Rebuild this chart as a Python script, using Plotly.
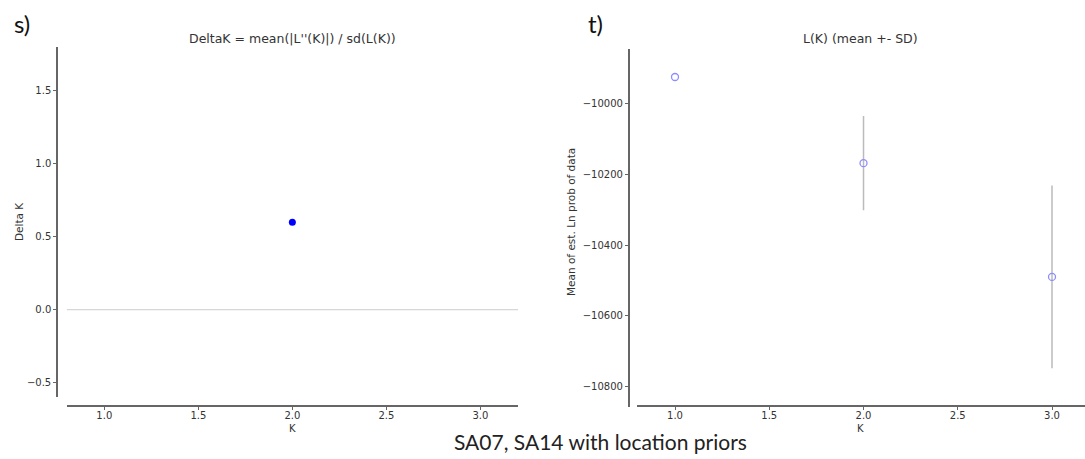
import plotly.graph_objects as go

W, H = 1085, 459

# ---- data ----
k_delta = [2.0]
delta_k = [0.6]

k_vals = [1, 2, 3]
lnp_mean = [-9926, -10169, -10490]
lnp_sd = [0, 133, 258]

left_xticks = [1.0, 1.5, 2.0, 2.5, 3.0]
left_yticks = [-0.5, 0.0, 0.5, 1.0, 1.5]
right_yticks = [-10800, -10600, -10400, -10200, -10000]
right_yticktext = ["\u221210800", "\u221210600", "\u221210400", "\u221210200", "\u221210000"]

def px(x):
    return x / W

def py(y):
    return 1 - y / H

FONT = "DejaVu Sans"
AXC = "#666666"
TXT = "#333333"

fig = go.Figure()

# zero line in left panel
fig.add_trace(go.Scatter(x=[0.8, 3.2], y=[0, 0], mode="lines",
                         line=dict(color="#cccccc", width=1),
                         xaxis="x", yaxis="y", showlegend=False, hoverinfo="skip"))
fig.add_trace(go.Scatter(x=k_delta, y=delta_k, mode="markers",
                         marker=dict(color="#0000ff", size=7, line=dict(width=0)),
                         xaxis="x", yaxis="y", showlegend=False))

fig.add_trace(go.Scatter(x=k_vals, y=lnp_mean, mode="markers",
                         marker=dict(color="rgba(0,0,0,0)", size=7,
                                     line=dict(color="#8c8cff", width=1.3)),
                         error_y=dict(type="data", array=lnp_sd, visible=True,
                                      color="#bbbbbb", thickness=1.5, width=0),
                         xaxis="x2", yaxis="y2", showlegend=False))

axis_common = dict(showgrid=False, zeroline=False, showline=True, linecolor=AXC,
                   linewidth=1.5, ticks="outside", ticklen=3, tickcolor=AXC, tickwidth=1,
                   tickfont=dict(family=FONT, size=10, color=TXT), anchor="free")

fig.update_layout(
    width=W, height=H,
    margin=dict(l=0, r=0, t=0, b=0),
    paper_bgcolor="white", plot_bgcolor="white",
    xaxis=dict(domain=[px(66.7), px(518)], range=[0.8, 3.2], tickvals=left_xticks,
               tickformat=".1f", position=py(406), ticklabelstandoff=-3, **axis_common),
    yaxis=dict(domain=[py(397.3), py(47)], range=[-0.6, 1.8], tickvals=left_yticks,
               tickformat=".1f", position=px(57), **axis_common),
    xaxis2=dict(domain=[px(637.3), 1.0], range=[0.8, 3.175], tickvals=left_xticks,
                tickformat=".1f", position=py(406), ticklabelstandoff=-3, **axis_common),
    yaxis2=dict(domain=[py(407), py(49)], range=[-10857, -9847], tickvals=right_yticks,
                ticktext=right_yticktext, position=px(628.7), **axis_common),
)

ann = []
def add_text(text, x, y, size, family=FONT, color=TXT, angle=0, xanchor="center"):
    ann.append(dict(text=text, x=px(x), y=py(y), xref="paper", yref="paper",
                    showarrow=False, xanchor=xanchor, yanchor="middle",
                    textangle=angle, font=dict(family=family, size=size, color=color)))

add_text("DeltaK = mean(|L''(K)|) / sd(L(K))", 292, 38, 12.5)
add_text("L(K) (mean +- SD)", 860, 38, 12.5)
add_text("Delta K", 19, 222, 10.5, angle=-90)
add_text("Mean of est. Ln prob of data", 571, 222, 10.5, angle=-90)
add_text("K", 292, 428, 10)
add_text("K", 860, 428, 10)
add_text("s)", 12, 23, 24, family="Lato", color="#111111", xanchor="left")
add_text("t)", 586, 23, 24, family="Lato", color="#111111", xanchor="left")
add_text("SA07, SA14 with location priors", 600, 441, 21, family="Lato", color="#222222")

fig.update_layout(annotations=ann)

fig.write_html("out.html")
